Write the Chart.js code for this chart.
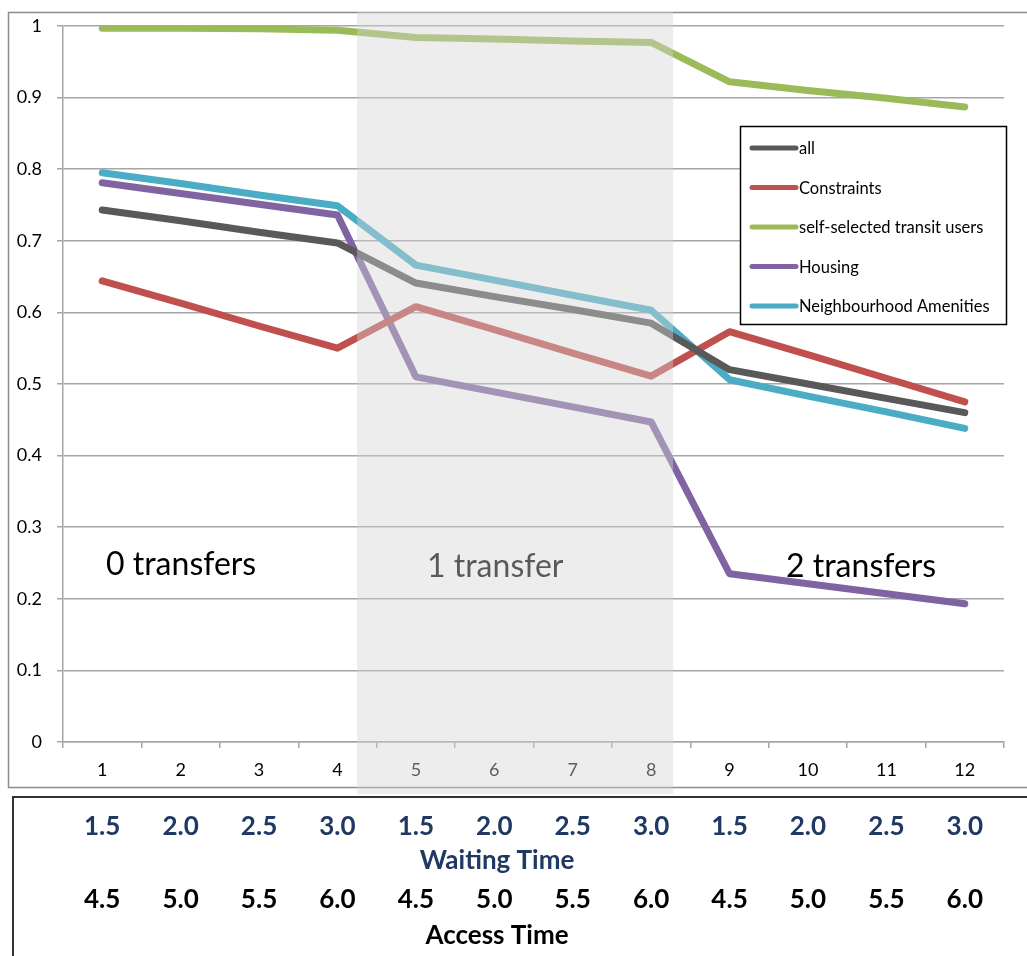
<!DOCTYPE html>
<html>
<head>
<meta charset="utf-8">
<script src="https://cdn.jsdelivr.net/npm/chart.js@4.4.0/dist/chart.umd.min.js"></script>
<style>
  body { margin: 0; background: #fff; }
  #wrap { width: 1027px; height: 956px; position: relative; }
</style>
</head>
<body>
<div id="wrap"><canvas id="chart" width="1027" height="956"></canvas></div>
<script>
// categories and values
const categories = ["1", "2", "3", "4", "5", "6", "7", "8", "9", "10", "11", "12"];
const allValues = [0.743, 0.728, 0.712, 0.697, 0.641, 0.622, 0.604, 0.585, 0.520, 0.500, 0.480, 0.460];
const constraintsValues = [0.644, 0.613, 0.581, 0.550, 0.608, 0.576, 0.543, 0.511, 0.573, 0.541, 0.508, 0.475];
const selfSelectedValues = [0.997, 0.997, 0.996, 0.994, 0.984, 0.982, 0.979, 0.977, 0.922, 0.910, 0.899, 0.887];
const housingValues = [0.781, 0.766, 0.751, 0.736, 0.510, 0.489, 0.468, 0.447, 0.235, 0.221, 0.207, 0.193];
const amenitiesValues = [0.795, 0.780, 0.764, 0.749, 0.666, 0.645, 0.624, 0.603, 0.506, 0.483, 0.461, 0.438];

const yTickLabels = ["0", "0.1", "0.2", "0.3", "0.4", "0.5", "0.6", "0.7", "0.8", "0.9", "1"];
const waitingTimes = ["1.5", "2.0", "2.5", "3.0", "1.5", "2.0", "2.5", "3.0", "1.5", "2.0", "2.5", "3.0"];
const accessTimes = ["4.5", "5.0", "5.5", "6.0", "4.5", "5.0", "5.5", "6.0", "4.5", "5.0", "5.5", "6.0"];
const transferLabels = ["0 transfers", "1 transfer", "2 transfers"];

const FONT = "Lato, 'Open Sans', sans-serif";

function makeSet(label, data, color) {
  return {
    label: label,
    data: data,
    borderColor: color,
    backgroundColor: color,
    borderWidth: 7,
    pointRadius: 0,
    tension: 0,
    borderCapStyle: "round",
    borderJoinStyle: "round",
  };
}

// text, shaded band, legend and the table under the axis
const extras = {
  id: "extras",
  afterDatasetsDraw(chart) {
    const ctx = chart.ctx;
    ctx.save();
    ctx.fillStyle = "#000";
    ctx.font = "32px " + FONT;
    ctx.textBaseline = "middle";
    ctx.textAlign = "left";
    ctx.fillText(transferLabels[0], 106, 565);
    ctx.fillText(transferLabels[1], 427, 567);
    ctx.fillText(transferLabels[2], 786, 567);
    ctx.restore();
  },
  afterDraw(chart) {
    const ctx = chart.ctx;
    const x = chart.scales.x;
    const step = x.getPixelForValue(1) - x.getPixelForValue(0);
    ctx.save();

    // outer border of the chart
    ctx.strokeStyle = "#8c8c8c";
    ctx.lineWidth = 1.5;
    ctx.strokeRect(8.5, 12.5, 1030, 775);

    // shaded band over the 1 transfer part
    const s0 = x.getPixelForValue(3) + 0.25 * step;
    const s1 = x.getPixelForValue(7) + 0.28 * step;
    ctx.fillStyle = "rgba(212,212,212,0.42)";
    ctx.fillRect(s0, 12, s1 - s0, 782);

    // legend
    ctx.fillStyle = "#fff";
    ctx.fillRect(740, 126, 266, 198);
    ctx.strokeStyle = "#000";
    ctx.lineWidth = 1.5;
    ctx.strokeRect(740.5, 126.5, 266, 198);
    ctx.font = "16.5px " + FONT;
    ctx.textBaseline = "middle";
    ctx.lineCap = "round";
    chart.data.datasets.forEach((ds, i) => {
      const yy = 148 + i * 39.5;
      ctx.strokeStyle = ds.borderColor;
      ctx.lineWidth = 5;
      ctx.beginPath();
      ctx.moveTo(752, yy);
      ctx.lineTo(796, yy);
      ctx.stroke();
      ctx.fillStyle = "#000";
      ctx.fillText(ds.label, 799, yy + 1);
    });

    // table under the x axis
    ctx.strokeStyle = "#333";
    ctx.lineWidth = 2;
    ctx.beginPath();
    ctx.moveTo(1030, 797);
    ctx.lineTo(13, 797);
    ctx.lineTo(13, 960);
    ctx.stroke();

    ctx.font = "bold 26px " + FONT;
    ctx.textAlign = "center";
    categories.forEach((c, i) => {
      const px = x.getPixelForValue(i);
      ctx.fillStyle = "#203864";
      ctx.fillText(waitingTimes[i], px, 827);
      ctx.fillStyle = "#000";
      ctx.fillText(accessTimes[i], px, 900);
    });
    ctx.fillStyle = "#203864";
    ctx.fillText("Waiting Time", 497, 861);
    ctx.fillStyle = "#000";
    ctx.fillText("Access Time", 497, 936);
    ctx.restore();
  },
};

new Chart(document.getElementById("chart"), {
  type: "line",
  data: {
    labels: categories,
    datasets: [
      makeSet("all", allValues, "#595959"),
      makeSet("Constraints", constraintsValues, "#c0504d"),
      makeSet("self-selected transit users", selfSelectedValues, "#9bbb59"),
      makeSet("Housing", housingValues, "#8064a2"),
      makeSet("Neighbourhood Amenities", amenitiesValues, "#4bacc6"),
    ],
  },
  options: {
    responsive: false,
    animation: false,
    layout: { padding: { left: 0, top: 26, right: 23, bottom: 174 } },
    plugins: {
      legend: { display: false },
      tooltip: { enabled: false },
    },
    scales: {
      x: {
        offset: true,
        grid: { drawOnChartArea: false, offset: true, tickLength: 6, color: "#a6a6a6", lineWidth: 1.5 },
        border: { color: "#a6a6a6", width: 1.5 },
        ticks: { color: "#000", font: { family: FONT, size: 18 }, padding: 11, maxRotation: 0 },
        afterFit(scale) { scale.height = 40; },
      },
      y: {
        min: 0,
        max: 1,
        ticks: {
          stepSize: 0.1,
          color: "#000",
          font: { family: FONT, size: 18 },
          padding: 15,
          callback: (v, i) => yTickLabels[i],
        },
        grid: { color: "#a6a6a6", lineWidth: 1.5, tickLength: 6 },
        border: { color: "#a6a6a6", width: 1.5 },
        afterFit(scale) { scale.width = 63; },
      },
    },
  },
  plugins: [extras],
});
</script>
</body>
</html>
